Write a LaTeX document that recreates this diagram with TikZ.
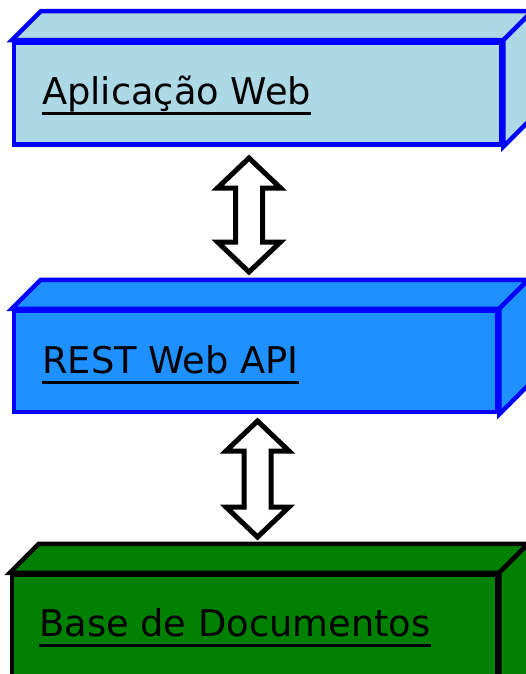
\documentclass[tikz,border=0pt]{standalone}
\usepackage{fontspec}
\setmainfont{DejaVu Sans}
\definecolor{boxlight}{HTML}{ADD8E6}
\definecolor{boxdodger}{HTML}{1E90FF}
\definecolor{boxgreen}{HTML}{008000}
\definecolor{edgeblue}{HTML}{0000FF}

% side and top faces of a 3-D block whose front face is node #1
\newcommand\blockfaces[3]{%
  \filldraw[face, fill=#2, draw=#3] (#1.north west) -- ++(29,-29)
    -- ([shift={(29,-29)}]#1.north east) -- (#1.north east) -- cycle;
  \filldraw[face, fill=#2, draw=#3] (#1.north east) -- ++(29,-29)
    -- ([shift={(29,-29)}]#1.south east) -- (#1.south east) -- cycle;
}
% hollow two-headed block arrow between two named coordinates
\newcommand\fatarrow[2]{%
  \draw[fat] (#1) -- ++(31.5,30) -- ++(-18,0) |- ([shift={(13.5,-30)}]#2)
    -- ++(18,0) -- (#2) -- ++(-31.5,-30) -- ++(18,0) |- ([shift={(-13.5,30)}]#1)
    -- ++(-18,0) -- cycle;
}

\begin{document}
\begin{tikzpicture}[x=1pt, y=-1pt, line join=miter,
  face/.style={line width=4.5pt},
  front/.style={face, rectangle, inner sep=0pt},
  fat/.style={line width=5pt, draw=black, fill=white},
  lbl/.style={anchor=base west, inner sep=0pt, font=\fontsize{36.8}{42}\selectfont},
  uline/.style={line width=3pt}]
\useasboundingbox (0,0) rectangle (526,674);
\clip (0,0) rectangle (526,674);

% Aplicação Web
\node[front, fill=boxlight, draw=edgeblue, minimum width=487pt, minimum height=102pt]
  (web) at (257.5,93.5) {};
\blockfaces{web}{boxlight}{edgeblue}
\node[lbl] (webtxt) at (42,105) {Aplicação Web};
\draw[uline] ([yshift=-9pt]webtxt.base west) -- ([yshift=-9pt]webtxt.base east);

% REST Web API
\node[front, fill=boxdodger, draw=edgeblue, minimum width=483pt, minimum height=101pt]
  (api) at (255.5,361.5) {};
\blockfaces{api}{boxdodger}{edgeblue}
\node[lbl] (apitxt) at (42,373) {REST Web API};
\draw[uline] ([yshift=-9pt]apitxt.base west) -- ([yshift=-9pt]apitxt.base east);

% Base de Documentos
\node[front, fill=boxgreen, draw=black, minimum width=485pt, minimum height=140pt]
  (db) at (254.5,645) {};
\blockfaces{db}{boxgreen}{black}
\node[lbl] (dbtxt) at (39,636) {Base de Documentos};
\draw[uline] ([yshift=-9pt]dbtxt.base west) -- ([yshift=-9pt]dbtxt.base east);

% connectors
\coordinate (a1t) at (249,158);
\coordinate (a1b) at (249,272);
\coordinate (a2t) at (257.5,421);
\coordinate (a2b) at (257.5,537);
\fatarrow{a1t}{a1b}
\fatarrow{a2t}{a2b}
\end{tikzpicture}
\end{document}
